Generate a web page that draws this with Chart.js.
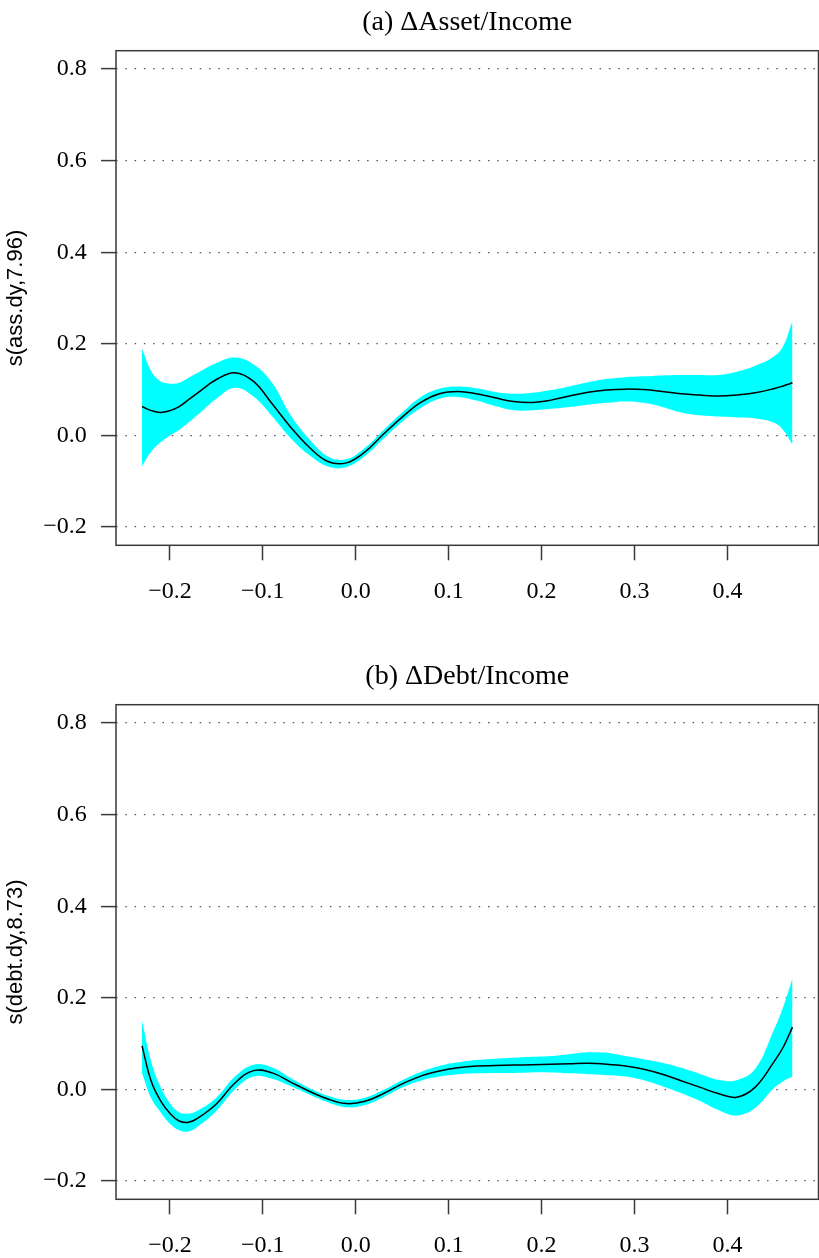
<!DOCTYPE html>
<html><head><meta charset="utf-8">
<script src="https://cdn.jsdelivr.net/npm/chart.js@4.4.0/dist/chart.umd.min.js"></script>
<style>
html,body{margin:0;padding:0;background:#fff;overflow:hidden;width:819px;height:1258px;}
.wrap{position:absolute;left:0;width:819px;}
#wa{top:0;height:629px;} #wb{top:654px;height:604px;}
canvas{display:block;}
</style></head><body>
<div class="wrap" id="wa"><canvas id="ca" width="819" height="629"></canvas></div>
<div class="wrap" id="wb"><canvas id="cb" width="819" height="604"></canvas></div>
<script>
// x positions of the smooth terms
const xs = [-0.23,-0.22,-0.21,-0.20,-0.19,-0.18,-0.17,-0.15,-0.13,-0.11,-0.09,-0.07,-0.05,-0.03,-0.01,0.01,0.03,0.05,0.07,0.09,0.11,0.13,0.15,0.17,0.19,0.21,0.23,0.25,0.27,0.29,0.31,0.33,0.35,0.37,0.39,0.41,0.43,0.45,0.46,0.47];

// (a) ΔAsset/Income
const assetFit   = [0.063,0.054,0.050,0.054,0.063,0.078,0.093,0.122,0.137,0.118,0.069,0.018,-0.026,-0.057,-0.060,-0.036,0.003,0.040,0.072,0.091,0.096,0.091,0.082,0.074,0.072,0.077,0.086,0.094,0.099,0.101,0.100,0.096,0.091,0.088,0.086,0.088,0.093,0.102,0.108,0.115];
const assetUpper = [0.189,0.140,0.118,0.113,0.115,0.126,0.137,0.158,0.170,0.155,0.115,0.044,-0.008,-0.046,-0.052,-0.027,0.012,0.050,0.084,0.102,0.107,0.103,0.095,0.091,0.093,0.099,0.107,0.116,0.123,0.127,0.129,0.131,0.132,0.132,0.132,0.139,0.152,0.172,0.195,0.250];
const assetLower = [-0.067,-0.035,-0.015,0.000,0.012,0.028,0.045,0.080,0.104,0.085,0.042,-0.006,-0.043,-0.068,-0.069,-0.045,-0.007,0.030,0.060,0.080,0.084,0.076,0.064,0.055,0.055,0.058,0.062,0.067,0.071,0.074,0.071,0.062,0.050,0.044,0.041,0.039,0.037,0.028,0.012,-0.020];

// (b) ΔDebt/Income
const debtFit   = [0.095,0.017,-0.025,-0.052,-0.069,-0.072,-0.063,-0.032,0.014,0.041,0.036,0.016,-0.004,-0.021,-0.031,-0.026,-0.009,0.012,0.029,0.040,0.047,0.051,0.052,0.053,0.054,0.055,0.056,0.057,0.055,0.051,0.044,0.033,0.019,0.005,-0.009,-0.017,0.005,0.060,0.092,0.136];
const debtUpper = [0.150,0.060,0.005,-0.030,-0.050,-0.053,-0.046,-0.018,0.028,0.054,0.048,0.025,0.003,-0.014,-0.023,-0.018,-0.001,0.020,0.038,0.051,0.059,0.064,0.067,0.069,0.071,0.073,0.077,0.081,0.080,0.073,0.066,0.058,0.047,0.034,0.021,0.020,0.045,0.130,0.180,0.242];
const debtLower = [0.036,-0.020,-0.050,-0.075,-0.089,-0.092,-0.081,-0.047,0.000,0.028,0.023,0.007,-0.011,-0.028,-0.039,-0.034,-0.017,0.004,0.019,0.028,0.033,0.035,0.036,0.036,0.037,0.037,0.035,0.033,0.031,0.028,0.020,0.007,-0.008,-0.025,-0.045,-0.057,-0.040,0.003,0.018,0.028];

// tick labels
const xTicks = [-0.2,-0.1,0.0,0.1,0.2,0.3,0.4];
const yTicks = [-0.2,0.0,0.2,0.4,0.6,0.8];
const xRange = [-0.258, 0.498];
const yRange = [-0.24, 0.84];

const fmt = v => (v < -1e-9 ? '\u2212' : '') + Math.abs(v).toFixed(1);
const pts = arr => xs.map((x, i) => ({x: x, y: arr[i]}));

const boxPlugin = {
  id: 'box',
  afterDatasetsDraw(chart) {
    const a = chart.chartArea, c = chart.ctx;
    c.save();
    c.strokeStyle = '#3a3a3a';
    c.lineWidth = 1.5;
    c.strokeRect(a.left, a.top, a.right - a.left, a.bottom - a.top);
    c.restore();
  }
};

function makeChart(id, title, ylab, fit, up, lo, canvasH) {
  const bottomArea = 545.3;
  return new Chart(document.getElementById(id), {
    type: 'line',
    data: {
      datasets: [
        {data: pts(fit), borderColor: '#000', borderWidth: 1.5, pointRadius: 0, fill: false, tension: 0.4},
        {data: pts(up), borderWidth: 0, borderColor: 'rgba(0,0,0,0)', backgroundColor: '#00FFFF', pointRadius: 0, fill: '+1', tension: 0.4},
        {data: pts(lo), borderWidth: 0, borderColor: 'rgba(0,0,0,0)', backgroundColor: '#00FFFF', pointRadius: 0, fill: false, tension: 0.4}
      ]
    },
    options: {
      responsive: false,
      animation: false,
      events: [],
      layout: {padding: {top: 0, left: 0, right: 0.5, bottom: 0}},
      plugins: {
        legend: {display: false},
        tooltip: {enabled: false},
        title: {
          display: true, text: title, fullSize: false, color: '#000',
          font: {family: 'Liberation Serif', size: 28, weight: 'normal', lineHeight: 1.2},
          padding: {top: 5.7, bottom: 11.4}
        }
      },
      scales: {
        x: {
          type: 'linear', min: xRange[0], max: xRange[1],
          afterBuildTicks: s => { s.ticks = xTicks.map(v => ({value: v})); },
          afterFit: s => { s.height = canvasH - bottomArea; },
          ticks: {callback: v => fmt(v), color: '#000', padding: 16.8, autoSkip: false, maxRotation: 0,
                  font: {family: 'Liberation Serif', size: 24}},
          grid: {drawOnChartArea: false, drawTicks: true, tickLength: 15, tickColor: '#3a3a3a', tickWidth: 1.5},
          border: {display: false}
        },
        y: {
          type: 'linear', min: yRange[0], max: yRange[1],
          afterBuildTicks: s => { s.ticks = yTicks.map(v => ({value: v})); },
          afterFit: s => { s.width = 116; },
          ticks: {callback: v => fmt(v), color: '#000', padding: 14.3, autoSkip: false,
                  font: {family: 'Liberation Serif', size: 24}},
          grid: {drawOnChartArea: true, drawTicks: true, tickLength: 15, color: '#555', lineWidth: 1.2,
                 tickColor: '#3a3a3a', tickWidth: 1.5, tickBorderDash: []},
          border: {display: false, dash: [1.5, 7.8]},
          title: {display: true, text: ylab, color: '#000', padding: {top: 3, bottom: 0},
                  font: {family: 'Liberation Sans', size: 22, lineHeight: 1.2}}
        }
      }
    },
    plugins: [boxPlugin]
  });
}

makeChart('ca', '(a) \u0394Asset/Income', 's(ass.dy,7.96)', assetFit, assetUpper, assetLower, 629);
makeChart('cb', '(b) \u0394Debt/Income', 's(debt.dy,8.73)', debtFit, debtUpper, debtLower, 604);
</script>
</body></html>
